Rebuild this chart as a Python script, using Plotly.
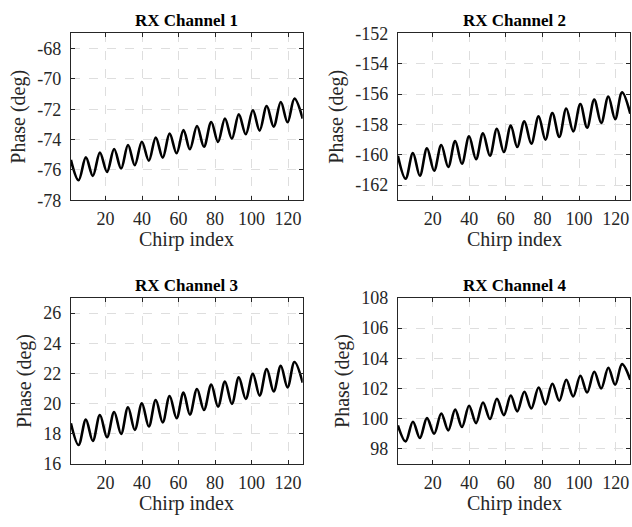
import plotly.graph_objects as go

# Chirp positions of the start point, the alternating troughs/peaks, and the end point
chirp_pos = [1, 5.2, 9.2, 13.0, 16.9, 20.8, 24.7, 28.5, 32.3, 36.0,
             39.9, 43.7, 47.5, 51.3, 55.1, 58.9, 62.7, 66.2, 70.1, 73.9,
             77.9, 81.6, 85.4, 89.2, 93.0, 96.8, 100.7, 104.4, 108.3, 112.1,
             116.0, 119.7, 123.5, 128]

rx1 = [-75.34, -76.68, -75.17, -76.39, -74.86, -76.13, -74.62, -75.91, -74.36, -75.69,
       -74.14, -75.39, -73.87, -75.19, -73.61, -74.90, -73.37, -74.64, -73.11, -74.47,
       -72.84, -74.16, -72.62, -73.94, -72.34, -73.65, -72.07, -73.41, -71.79, -73.15,
       -71.53, -72.86, -71.30, -72.62]
rx2 = [-160.07, -161.58, -159.89, -161.38, -159.58, -161.05, -159.36, -160.81, -159.10, -160.59,
       -158.79, -160.29, -158.59, -160.07, -158.29, -159.82, -158.07, -159.49, -157.80, -159.27,
       -157.47, -159.01, -157.25, -158.83, -156.95, -158.46, -156.66, -158.22, -156.37, -157.91,
       -156.16, -157.65, -155.89, -157.30]
rx3 = [18.70, 17.26, 18.94, 17.53, 19.25, 17.77, 19.45, 17.99, 19.76, 18.26,
       20.02, 18.48, 20.24, 18.76, 20.51, 19.03, 20.73, 19.27, 20.97, 19.58,
       21.26, 19.80, 21.46, 19.98, 21.74, 20.31, 21.97, 20.53, 22.30, 20.81,
       22.50, 21.08, 22.76, 21.39]
rx4 = [99.56, 98.50, 99.80, 98.72, 100.04, 99.01, 100.35, 99.23, 100.60, 99.45,
       100.86, 99.71, 101.08, 99.98, 101.32, 100.24, 101.54, 100.49, 101.79, 100.68,
       102.07, 100.95, 102.32, 101.19, 102.58, 101.48, 102.85, 101.74, 103.11, 102.01,
       103.38, 102.25, 103.62, 102.58]

titles = ["RX Channel 1", "RX Channel 2", "RX Channel 3", "RX Channel 4"]
x_ticks = [20, 40, 60, 80, 100, 120]
x_ticktext = ["20", "40", "60", "80", "100", "120"]
y_ranges = [[-78, -67], [-163, -152], [16, 27], [97, 108]]
y_ticks = [[-78, -76, -74, -72, -70, -68],
           [-162, -160, -158, -156, -154, -152],
           [16, 18, 20, 22, 24, 26],
           [98, 100, 102, 104, 106, 108]]
y_ticktext = [["-78", "-76", "-74", "-72", "-70", "-68"],
              ["-162", "-160", "-158", "-156", "-154", "-152"],
              ["16", "18", "20", "22", "24", "26"],
              ["98", "100", "102", "104", "106", "108"]]
series = [rx1, rx2, rx3, rx4]

W, H = 632, 527
# pixel boxes (left, right, top, bottom)
boxes = [(70.9, 302.7, 33.3, 200.3), (397.9, 630.3, 33.3, 200.3),
         (70.9, 302.7, 298.0, 464.0), (397.9, 630.3, 298.0, 464.0)]

FONT = "Liberation Serif, Times New Roman, serif"
fig = go.Figure()
layout = dict(width=W, height=H, margin=dict(l=0, r=0, t=0, b=0, autoexpand=False),
              paper_bgcolor="white", plot_bgcolor="white", showlegend=False,
              font=dict(family=FONT, color="black"))
annotations = []
for i in range(4):
    n = i + 1
    xa = "x" if n == 1 else f"x{n}"
    ya = "y" if n == 1 else f"y{n}"
    fig.add_trace(go.Scatter(x=chirp_pos, y=series[i], mode="lines",
                             line=dict(color="black", width=2.6, shape="spline", smoothing=1.0),
                             xaxis=xa, yaxis=ya, hoverinfo="skip", cliponaxis=True))
    l, r, t, b = boxes[i]
    axis_common = dict(showline=True, linecolor="#262626", linewidth=1, mirror="ticks",
                       ticks="inside", ticklen=4, tickcolor="#262626", automargin=False,
                       showgrid=True, gridcolor="#dedede", griddash="dash", gridwidth=1,
                       zeroline=False, tickfont=dict(family=FONT, size=18, color="#262626"))
    layout["xaxis" if n == 1 else f"xaxis{n}"] = dict(
        axis_common, domain=[l / W, r / W], anchor=ya, range=[1, 128],
        tickmode="array", tickvals=x_ticks, ticktext=x_ticktext, ticklabelstandoff=2)
    layout["yaxis" if n == 1 else f"yaxis{n}"] = dict(
        axis_common, domain=[1 - b / H, 1 - t / H], anchor=xa, range=y_ranges[i],
        tickmode="array", tickvals=y_ticks[i], ticktext=y_ticktext[i], ticklabelstandoff=5,
        title=dict(text="Phase (deg)", font=dict(family=FONT, size=20, color="#262626"), standoff=6))
    annotations.append(dict(text=f"<b>{titles[i]}</b>", x=(l + r) / 2 / W, y=1 - t / H + 1 / H,
                            xref="paper", yref="paper", xanchor="center", yanchor="bottom",
                            showarrow=False, font=dict(family=FONT, size=17, color="black")))
    annotations.append(dict(text="Chirp index", x=(l + r) / 2 / W, y=1 - (b + 39) / H,
                            xref="paper", yref="paper", xanchor="center", yanchor="middle",
                            showarrow=False, font=dict(family=FONT, size=20, color="#262626")))
layout["annotations"] = annotations
fig.update_layout(**layout)
fig.write_html("out.html", config={"displayModeBar": False},
               post_script="document.body.style.margin='0';document.body.style.overflow='hidden';")
